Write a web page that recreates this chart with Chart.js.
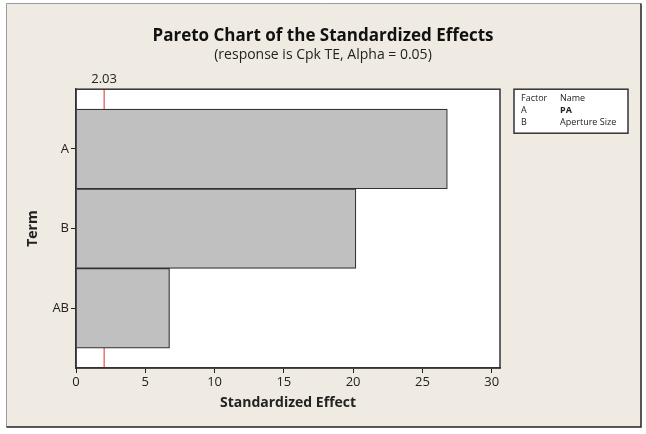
<!DOCTYPE html>
<html>
<head>
<meta charset="utf-8">
<script src="https://cdn.jsdelivr.net/npm/chart.js@4.4.0/dist/chart.umd.min.js"></script>
<style>
  html, body { margin: 0; padding: 0; background: #fff; }
  #wrap { width: 646px; height: 434px; }
</style>
</head>
<body>
<div id="wrap"><canvas id="chart" width="646" height="434"></canvas></div>
<script>
const terms = ['A', 'B', 'AB'];
const effects = [26.8, 20.2, 6.75];
const refLine = 2.03;
const xTicks = [0, 5, 10, 15, 20, 25, 30];
const factorCodes = ['A', 'B'];
const factorNames = ['PA', 'Aperture Size'];

const font = '"Open Sans", "Noto Sans", sans-serif';

// frame, white plot area, the red reference line and the factor box
const decor = {
  id: 'decor',
  beforeDraw(chart) {
    const { ctx, chartArea: a } = chart;
    ctx.save();
    ctx.fillStyle = '#efebe2';
    ctx.fillRect(6, 3, 635, 424);
    ctx.strokeStyle = '#9a9a9a';
    ctx.lineWidth = 1;
    ctx.beginPath();
    ctx.moveTo(6.5, 427); ctx.lineTo(6.5, 3.5); ctx.lineTo(641, 3.5);
    ctx.stroke();
    ctx.strokeStyle = '#222';
    ctx.lineWidth = 1.5;
    ctx.beginPath();
    ctx.moveTo(641, 3.5); ctx.lineTo(641, 427); ctx.lineTo(6.5, 427);
    ctx.stroke();
    ctx.fillStyle = '#fff';
    ctx.fillRect(a.left, a.top, a.right - a.left, a.bottom - a.top);
    ctx.restore();
  },
  beforeDatasetsDraw(chart) {
    const { ctx, chartArea: a, scales } = chart;
    const x = scales.x.getPixelForValue(refLine);
    ctx.save();
    ctx.strokeStyle = '#e8262b';
    ctx.lineWidth = 1;
    ctx.beginPath();
    ctx.moveTo(x, a.top); ctx.lineTo(x, a.bottom);
    ctx.stroke();
    ctx.fillStyle = '#222';
    ctx.font = '13px ' + font;
    ctx.textAlign = 'center';
    ctx.textBaseline = 'middle';
    ctx.fillText(refLine.toFixed(2), x, a.top - 10);
    ctx.restore();
  },
  afterDraw(chart) {
    const { ctx, chartArea: a } = chart;
    ctx.save();
    ctx.strokeStyle = '#333';
    ctx.lineWidth = 1.5;
    ctx.strokeRect(a.left, a.top, a.right - a.left, a.bottom - a.top);

    // factor / name box
    const bx = a.right + 14, by = a.top, bw = 114, bh = 44;
    ctx.fillStyle = '#fff';
    ctx.fillRect(bx, by, bw, bh);
    ctx.strokeRect(bx, by, bw, bh);
    ctx.fillStyle = '#222';
    ctx.font = '9px ' + font;
    ctx.textBaseline = 'middle';
    ctx.fillText('Factor', bx + 7, by + 9);
    ctx.fillText('Name', bx + 46, by + 9);
    factorCodes.forEach((c, i) => {
      const y = by + 21 + i * 12;
      ctx.font = '9px ' + font;
      ctx.fillText(c, bx + 7, y);
      ctx.font = (i === 0 ? 'bold ' : '') + '9px ' + font;
      ctx.fillText(factorNames[i], bx + 46, y);
    });
    ctx.restore();
  }
};

new Chart(document.getElementById('chart'), {
  type: 'bar',
  data: {
    datasets: [{
      data: effects.map((v, i) => ({ x: v, y: i })),
      backgroundColor: '#c0c0c0',
      borderColor: '#333',
      borderWidth: 1.2,
      barPercentage: 1,
      categoryPercentage: 1
    }]
  },
  options: {
    indexAxis: 'y',
    responsive: false,
    animation: false,
    layout: { padding: 0 },
    plugins: {
      legend: { display: false },
      tooltip: { enabled: false },
      title: {
        display: true,
        text: 'Pareto Chart of the Standardized Effects',
        color: '#111',
        font: { family: font, size: 17, weight: 'bold' },
        padding: { top: 26, bottom: 0 }
      },
      subtitle: {
        display: true,
        text: '(response is Cpk TE, Alpha = 0.05)',
        color: '#222',
        font: { family: font, size: 14 },
        padding: { top: 0, bottom: 26 }
      }
    },
    scales: {
      x: {
        type: 'linear',
        min: 0,
        max: 30.6,
        afterBuildTicks: s => { s.ticks = xTicks.map(v => ({ value: v })); },
        afterFit: s => { s.height = 66; },
        grid: { drawOnChartArea: false, drawTicks: true, tickLength: 5, color: '#222' },
        border: { display: true, color: '#333', width: 1.5 },
        ticks: { color: '#222', font: { family: font, size: 13 }, padding: 1 },
        title: {
          display: true,
          text: 'Standardized Effect',
          color: '#222',
          font: { family: font, size: 14, weight: 'bold' },
          padding: { top: 0, bottom: 23 }
        }
      },
      y: {
        type: 'linear',
        reverse: true,
        offset: false,
        min: -0.75,
        max: 2.75,
        afterBuildTicks: s => { s.ticks = terms.map((t, i) => ({ value: i })); },
        afterFit: s => { s.width = 76; },
        grid: { offset: false, drawOnChartArea: false, drawTicks: true, tickLength: 5, color: '#222' },
        border: { display: true, color: '#333', width: 1.5 },
        ticks: {
          color: '#222',
          font: { family: font, size: 13 },
          padding: 2,
          callback: v => terms[v]
        },
        title: {
          display: true,
          text: 'Term',
          color: '#222',
          font: { family: font, size: 14, weight: 'bold' },
          padding: { top: 25, bottom: 0 }
        }
      },
      // empty right-hand axis that only reserves room for the factor box
      side: {
        type: 'linear',
        position: 'right',
        axis: 'y',
        afterFit: s => { s.width = 146; },
        grid: { display: false },
        border: { display: false },
        ticks: { display: false }
      }
    }
  },
  plugins: [decor]
});
</script>
</body>
</html>
